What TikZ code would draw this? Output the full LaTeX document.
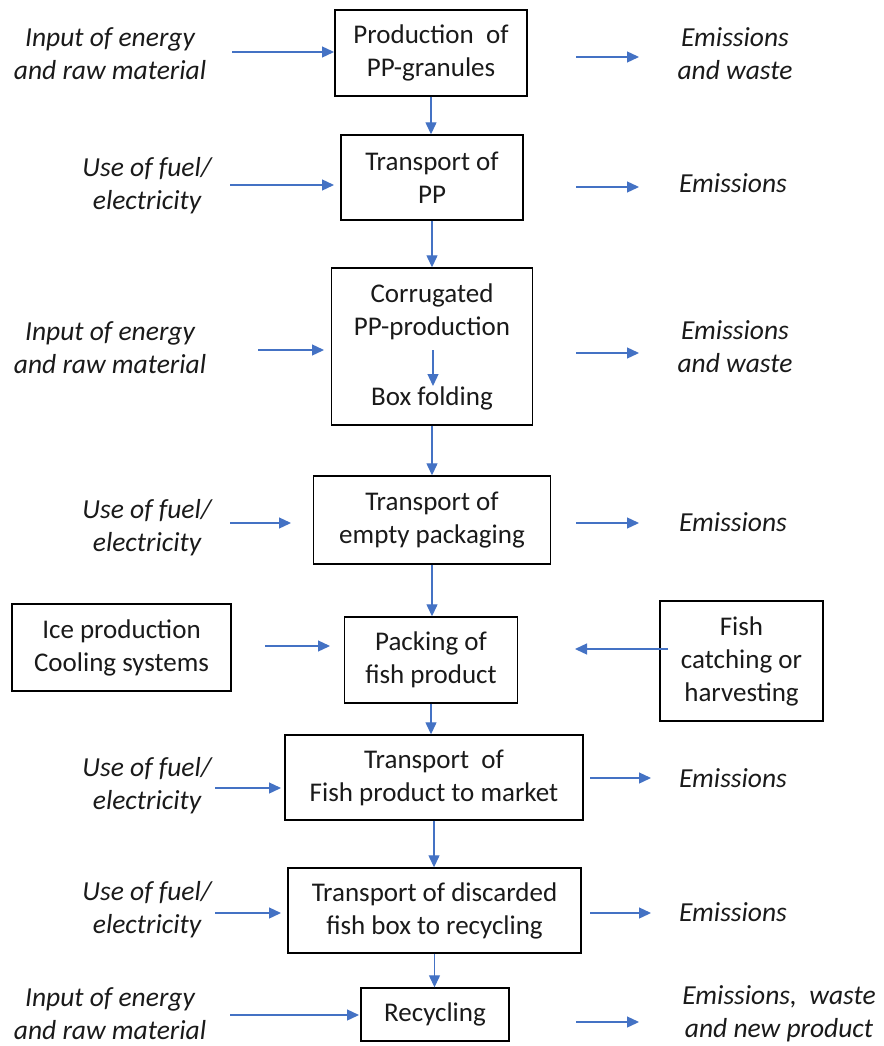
\documentclass[tikz,border=0pt]{standalone}
\usepackage{fontspec}
\setmainfont{Carlito}
\usetikzlibrary{arrows.meta}
\definecolor{arrowblue}{HTML}{4472C4}
\definecolor{txt}{HTML}{1A1A1A}
\begin{document}
\begin{tikzpicture}[x=1pt,y=-1pt,
  every node/.style={font=\fontsize{27}{33}\selectfont, text=txt},
  procbox/.style={draw=black, line width=1.4pt, inner sep=0pt, align=center},
  lbl/.style={font=\fontsize{27.5}{33}\selectfont\itshape, align=center, inner sep=0pt},
  flow/.style={draw=arrowblue, line width=1.3pt, -{Triangle[length=12pt,width=11pt]}}]
\useasboundingbox (0,0) rectangle (883,1046);
% boxes
\node[procbox, minimum width=192pt, minimum height=86pt] (b1) at (431,53) {Production\ \ of\\PP-granules};
\node[procbox, minimum width=182pt, minimum height=85pt] (b2) at (432,177.5) {Transport of\\PP};
\node[procbox, minimum width=201pt, minimum height=157pt] (b3) at (432,346.5) {Corrugated\\PP-production\\[37pt]Box folding};
\node[procbox, minimum width=237pt, minimum height=88pt] (b4) at (432,520) {Transport of\\empty packaging};
\node[procbox, minimum width=173pt, minimum height=86pt] (b5) at (431,660) {Packing of\\fish product};
\node[procbox, minimum width=219pt, minimum height=87pt] (b6) at (121.5,647.5) {Ice production\\Cooling systems};
\node[procbox, minimum width=163pt, minimum height=120pt] (b7) at (741.5,661) {Fish\\catching or\\harvesting};
\node[procbox, minimum width=298pt, minimum height=85pt] (b8) at (434,777.5) {Transport\ \ of\\Fish product to market};
\node[procbox, minimum width=293pt, minimum height=85pt] (b9) at (434.5,910.5) {Transport of discarded\\fish box to recycling};
\node[procbox, minimum width=148pt, minimum height=53pt] (b10) at (435,1014.5) {Recycling};
% left labels
\node[lbl] (l1) at (110,53.5) {Input of energy\\and raw material};
\node[lbl] (l2) at (147,186) {Use of fuel/\\electricity};
\node[lbl] (l3) at (110,347.5) {Input of energy\\and raw material};
\node[lbl] (l4) at (147,528) {Use of fuel/\\electricity};
\node[lbl] (l6) at (147,786) {Use of fuel/\\electricity};
\node[lbl] (l7) at (147,910) {Use of fuel/\\electricity};
\node[lbl] (l8) at (110,1013.5) {Input of energy\\and raw material};
% right labels
\node[lbl] (r1) at (735,54) {Emissions\\and waste};
\node[lbl] (r2) at (733,183) {Emissions};
\node[lbl] (r3) at (735,346.5) {Emissions\\and waste};
\node[lbl] (r4) at (733,522) {Emissions};
\node[lbl] (r6) at (733,778) {Emissions};
\node[lbl] (r7) at (733,912) {Emissions};
\node[lbl] (r8) at (779,1013.5) {Emissions,\ \ waste\\and new product};
% vertical flow
\draw[flow] (b1.south) -- (b1.south |- b2.north);
\draw[flow] (b2.south) -- (b2.south |- b3.north);
\draw[flow] (b3.south) -- (b3.south |- b4.north);
\draw[flow] (b4.south) -- (b4.south |- b5.north);
\draw[flow] (b5.south) -- (b5.south |- b8.north);
\draw[flow] (b8.south) -- (b8.south |- b9.north);
\draw[flow] (b9.south) -- (b9.south |- b10.north);
% internal arrow
\coordinate (i1) at (433,350);
\coordinate (i2) at (433,386);
\draw[flow] (i1) -- (i2);
% input arrows
\coordinate (a1s) at (232,52); \coordinate (a1e) at (334,52);
\coordinate (a2s) at (230,185); \coordinate (a2e) at (334,185);
\coordinate (a3s) at (258,350); \coordinate (a3e) at (324,350);
\coordinate (a4s) at (230,523); \coordinate (a4e) at (291,523);
\coordinate (a6s) at (215,788); \coordinate (a6e) at (281,788);
\coordinate (a7s) at (215,913); \coordinate (a7e) at (281,913);
\coordinate (a8s) at (230,1015); \coordinate (a8e) at (359,1015);
\foreach \n in {1,2,3,4,6,7,8} {\draw[flow] (a\n s) -- (a\n e);}
% output arrows
\coordinate (o1s) at (576,57); \coordinate (o1e) at (639,57);
\coordinate (o2s) at (576,187); \coordinate (o2e) at (639,187);
\coordinate (o3s) at (576,353); \coordinate (o3e) at (639,353);
\coordinate (o4s) at (576,523); \coordinate (o4e) at (639,523);
\coordinate (o6s) at (590,778); \coordinate (o6e) at (651,778);
\coordinate (o7s) at (590,913); \coordinate (o7e) at (651,913);
\coordinate (o8s) at (576,1022); \coordinate (o8e) at (639,1022);
\foreach \n in {1,2,3,4,6,7,8} {\draw[flow] (o\n s) -- (o\n e);}
% side inputs to packing
\coordinate (p1s) at (265,646); \coordinate (p1e) at (330,646);
\draw[flow] (p1s) -- (p1e);
\coordinate (p2s) at (668,649); \coordinate (p2e) at (575,649);
\draw[flow] (p2s) -- (p2e);
\end{tikzpicture}
\end{document}
